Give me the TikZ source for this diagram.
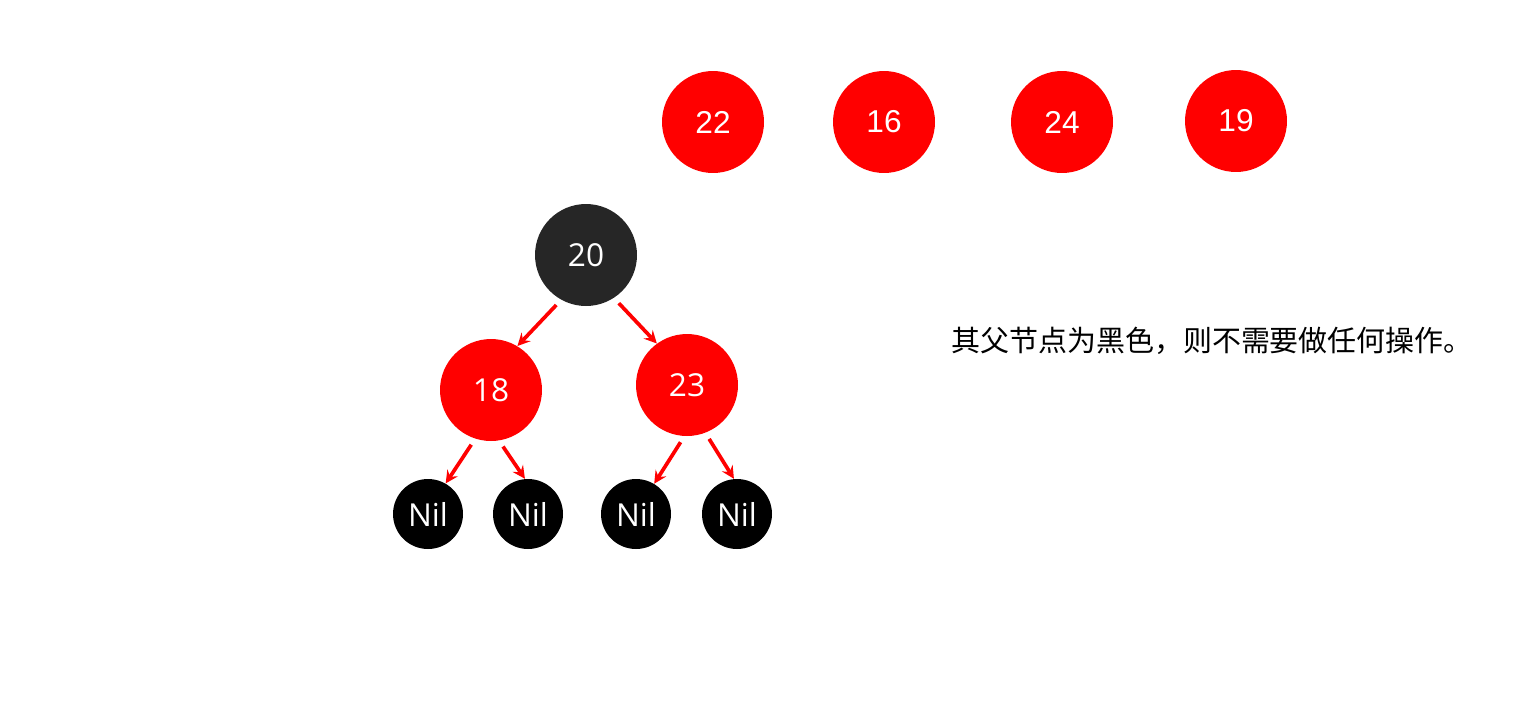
\documentclass[tikz,border=0pt]{standalone}
\usepackage{fontspec}
\setmainfont{Open Sans}
\newfontfamily\cjk{Noto Sans CJK SC}
\newfontfamily\arialfont{Liberation Sans}
\usepackage{xcolor}
\usetikzlibrary{shapes,arrows,positioning}

\definecolor{nodeblack}{HTML}{262626}

\begin{document}
\begin{tikzpicture}[x=0.02cm, y=-0.02cm,
    rednode/.style={circle, fill=red, text=white, minimum size=2.04cm, inner sep=0pt, font=\fontsize{18}{21}\selectfont},
    newnode/.style={rednode, font=\arialfont\fontsize{18}{21}\selectfont},
    blacknode/.style={rednode, fill=nodeblack},
    nilnode/.style={circle, fill=black, text=white, minimum size=1.4cm, inner sep=0pt, font=\fontsize{18}{21}\selectfont},
    arrow/.style={red, line width=2.1pt, ->, >=stealth, shorten <=4pt, shorten >=0pt}]

    \useasboundingbox (0,0) rectangle (1537,701);

    % nodes still to insert
    \node [newnode] (k22) at (713,122) {22};
    \node [newnode] (k16) at (884,122) {16};
    \node [newnode] (k24) at (1062,122) {24};
    \node [newnode] (k19) at (1236,121) {19};

    % current tree
    \node [blacknode] (n20) at (586,255) {20};
    \node [rednode] (n18) at (491,390) {18};
    \node [rednode] (n23) at (687,385) {23};
    \node [nilnode] (nil1) at (428,514) {Nil};
    \node [nilnode] (nil2) at (528,514) {Nil};
    \node [nilnode] (nil3) at (636,514) {Nil};
    \node [nilnode] (nil4) at (737,514) {Nil};

    \node [font=\cjk\fontsize{16.5}{19}\selectfont] (note) at (1212,341) {其父节点为黑色，则不需要做任何操作。};

    \draw [arrow] (n20.-119) -- (n18.59);
    \draw [arrow] (n20.-57) -- (n23.126);
    \draw [arrow] (n18.-108) -- (nil1.60);
    \draw [arrow] (n18.-81) -- (nil2.95);
    \draw [arrow] (n23.-93) -- (nil3.59);
    \draw [arrow] (n23.-69) -- (nil4.95);
\end{tikzpicture}
\end{document}
